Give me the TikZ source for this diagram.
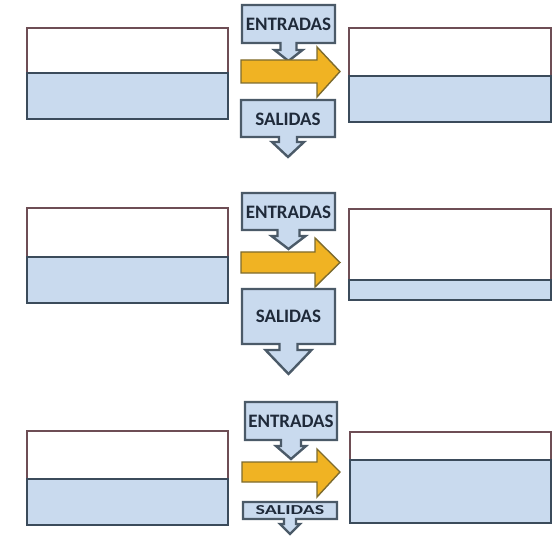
\documentclass[tikz,border=0pt]{standalone}
\usepackage{fontspec}
\newfontfamily\calfont{Carlito}
\usepackage{xcolor}
\usetikzlibrary{positioning,calc}

\definecolor{waterblue}{HTML}{C9DAEE}
\definecolor{tankline}{HTML}{3B4B5B}
\definecolor{rimline}{HTML}{6E4E55}
\definecolor{callline}{HTML}{4B5A68}
\definecolor{flowfill}{HTML}{F0B323}
\definecolor{flowline}{HTML}{7D6B2E}
\definecolor{labelink}{HTML}{1F2A3A}

% callout box with a down arrow: x1,y1,x2,y2, shaft half width, head half width, head start, tip
\newcommand{\calloutbox}[8]{%
    \draw[callbox] (#1,#2) -- (#3,#2) -- (#3,#4)
        -- ({(#1+#3)/2+#5},#4) -- ({(#1+#3)/2+#5},#7) -- ({(#1+#3)/2+#6},#7)
        -- ({(#1+#3)/2},#8)
        -- ({(#1+#3)/2-#6},#7) -- ({(#1+#3)/2-#5},#7) -- ({(#1+#3)/2-#5},#4)
        -- (#1,#4) -- cycle;}

% tank: x1,x2,top,level,bottom
\newcommand{\tank}[5]{%
    \fill[waterblue] (#1,#4) rectangle (#2,#5);
    \draw[rimline, line width=1.8pt] (#1,#4) -- (#1,#3) -- (#2,#3) -- (#2,#4);
    \draw[tankline, line width=1.8pt] (#1,#4) -- (#1,#5) -- (#2,#5) -- (#2,#4) -- cycle;}

% flow arrow: x start, shaft end, tip, shaft top, shaft bottom, head top, head bottom
\newcommand{\flowarrow}[7]{%
    \draw[flow] (#1,#4) -- (#2,#4) -- (#2,#6) -- (#3,{(#4+#5)/2}) -- (#2,#7)
        -- (#2,#5) -- (#1,#5) -- cycle;}

\begin{document}
\begin{tikzpicture}[x=1pt, y=-1pt,
    callbox/.style={fill=waterblue, draw=callline, line width=2.4pt, line join=miter},
    flow/.style={fill=flowfill, draw=flowline, line width=1.4pt, line join=miter},
    lbl/.style={text=labelink, font=\calfont\bfseries\fontsize{19}{19}\selectfont, inner sep=0pt}]
    \useasboundingbox (0,0) rectangle (559,537);

    % Row 1
    \tank{27}{228}{28}{73}{119}
    \tank{349}{551}{28}{76}{122}
    \calloutbox{242}{5}{335}{43}{8}{14}{50}{61}
    \calloutbox{241}{100}{335}{137}{9}{16}{142}{157}
    \flowarrow{241}{317}{340}{60}{83}{47}{97}
    \node[lbl] (in1) at (288.5,24) {ENTRADAS};
    \node[lbl] (out1) at (288,119) {SALIDAS};

    % Row 2
    \tank{27}{228}{208}{257}{303}
    \tank{349}{551}{209}{280}{300}
    \calloutbox{242}{193}{335}{230}{11}{17}{236}{249}
    \calloutbox{242}{289}{335}{344}{9}{23}{350}{374}
    \flowarrow{241}{315}{340}{252}{273}{238}{287}
    \node[lbl] (in2) at (288.5,212) {ENTRADAS};
    \node[lbl] (out2) at (288.5,316) {SALIDAS};

    % Row 3
    \tank{27}{228}{431}{479}{525}
    \tank{350}{551}{432}{460}{523}
    \calloutbox{245}{402}{337}{440}{10}{15}{446}{459}
    \calloutbox{243}{502}{337}{519}{6}{10}{524}{534}
    \flowarrow{242}{317}{340}{462}{482}{449}{497}
    \node[lbl] (in3) at (291,421) {ENTRADAS};
    \node[lbl] (out3) at (290,510.5) {\scalebox{1.05}[0.72]{SALIDAS}};
\end{tikzpicture}
\end{document}
